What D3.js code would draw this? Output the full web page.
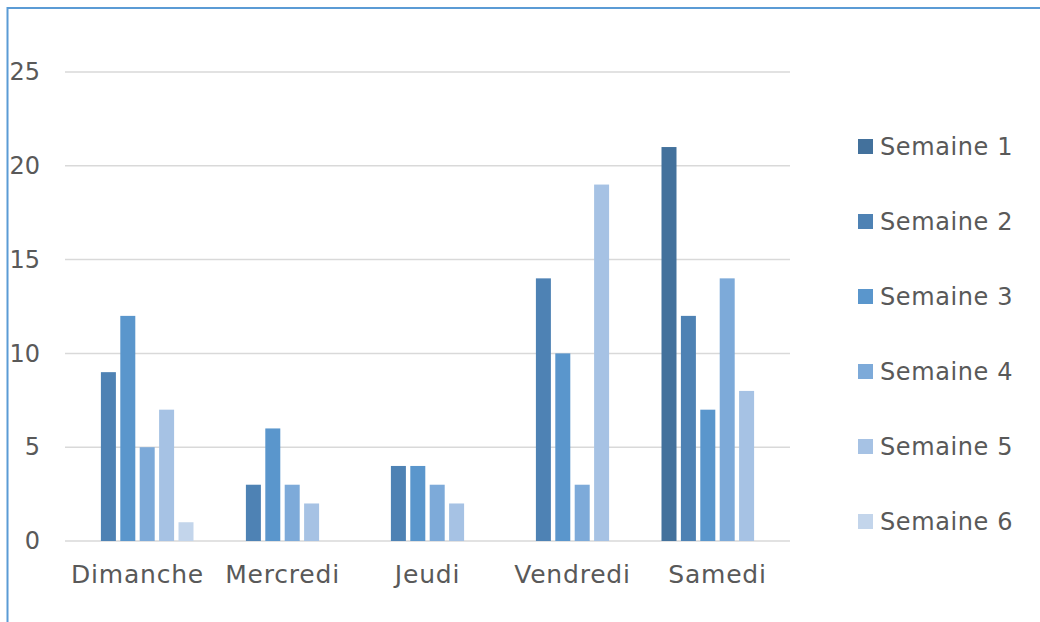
<!DOCTYPE html>
<html>
<head>
<meta charset="utf-8">
<script src="https://cdn.jsdelivr.net/npm/d3@7"></script>
<style>
  body { margin: 0; background: #fff; }
  text { font-family: "DejaVu Sans", sans-serif; fill: #595959; }
</style>
</head>
<body>
<div id="chart"></div>
<script>
// Data
var days = ["Dimanche", "Mercredi", "Jeudi", "Vendredi", "Samedi"];
var weeks = ["Semaine 1", "Semaine 2", "Semaine 3", "Semaine 4", "Semaine 5", "Semaine 6"];
var semaine1 = [0, 0, 0, 0, 21];
var semaine2 = [9, 3, 4, 14, 12];
var semaine3 = [12, 6, 4, 10, 7];
var semaine4 = [5, 3, 3, 3, 14];
var semaine5 = [7, 2, 2, 19, 8];
var semaine6 = [1, 0, 0, 0, 0];
var yTicks = [0, 5, 10, 15, 20, 25];

var series = [semaine1, semaine2, semaine3, semaine4, semaine5, semaine6];
var colors = ["#43719c", "#4e82b4", "#5a96cc", "#7daad9", "#a6c2e4", "#c3d5eb"];

var svgWidth = 1040;
var svgHeight = 622;

var svg = d3.select("#chart")
    .append("svg")
    .attr("width", svgWidth)
    .attr("height", svgHeight);

// Chart border (runs off the right and bottom of the picture)
svg.append("rect")
    .attr("x", 7.5)
    .attr("y", 8)
    .attr("width", 1100)
    .attr("height", 700)
    .attr("fill", "none")
    .attr("stroke", "#5b9bd5")
    .attr("stroke-width", 2);

// Scales
var xScale = d3.scaleBand()
    .domain(days)
    .range([65, 790])
    .paddingInner(0.2276)
    .paddingOuter(0.1138);

var xInner = d3.scaleBand()
    .domain(d3.range(weeks.length))
    .range([0, xScale.bandwidth()])
    .paddingInner(0.227);

var yScale = d3.scaleLinear()
    .domain([0, 25])
    .range([541, 72]);

// Gridlines
svg.append("g")
    .selectAll("line")
    .data(yTicks)
    .enter()
    .append("line")
    .attr("x1", 65)
    .attr("x2", 790)
    .attr("y1", d => yScale(d))
    .attr("y2", d => yScale(d))
    .attr("stroke", "#d9d9d9")
    .attr("stroke-width", 1.5);

// Y axis labels
var yAxis = d3.axisLeft(yScale).tickValues(yTicks).tickSize(0).tickPadding(0);
var yAxisGroup = svg.append("g")
    .attr("transform", "translate(40, 0)")
    .call(yAxis);
yAxisGroup.select(".domain").remove();
yAxisGroup.selectAll("text")
    .attr("font-size", "24px")
    .attr("font-family", null)
    .attr("fill", "#595959");

// Bars
var groups = svg.append("g")
    .selectAll("g")
    .data(days)
    .enter()
    .append("g")
    .attr("transform", d => `translate(${xScale(d)}, 0)`);

groups.selectAll("rect")
    .data((d, i) => series.map((s, j) => ({ week: j, value: s[i] })))
    .enter()
    .append("rect")
    .filter(d => d.value > 0)
    .attr("x", d => xInner(d.week))
    .attr("width", xInner.bandwidth())
    .attr("y", d => yScale(d.value))
    .attr("height", d => yScale(0) - yScale(d.value))
    .attr("fill", d => colors[d.week]);

// X axis labels
var xAxis = d3.axisBottom(xScale).tickSize(0).tickPadding(0);
var xAxisGroup = svg.append("g")
    .attr("transform", "translate(0, 565)")
    .call(xAxis);
xAxisGroup.select(".domain").remove();
xAxisGroup.selectAll("text")
    .attr("font-size", "25px")
    .attr("letter-spacing", "0.8px")
    .attr("font-family", null)
    .attr("fill", "#595959");

// Legend
var legend = svg.append("g")
    .selectAll("g")
    .data(weeks)
    .enter()
    .append("g")
    .attr("transform", (d, i) => `translate(858, ${146.5 + i * 75})`);

legend.append("rect")
    .attr("x", 0)
    .attr("y", -7.5)
    .attr("width", 15)
    .attr("height", 15)
    .attr("fill", (d, i) => colors[i]);

legend.append("text")
    .attr("x", 22)
    .attr("y", 0)
    .attr("dominant-baseline", "central")
    .attr("font-size", "24px")
    .attr("letter-spacing", "0.6px")
    .text(d => d);
</script>
</body>
</html>
